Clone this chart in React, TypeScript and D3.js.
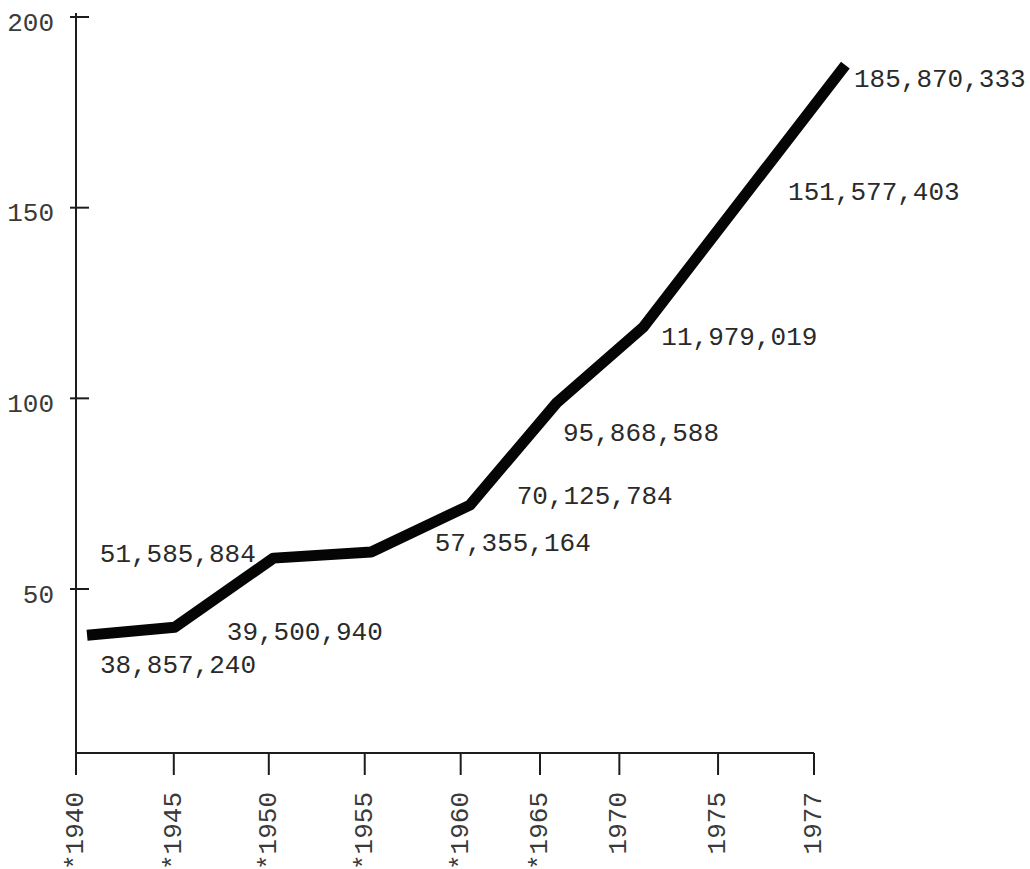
import React from "react";
import * as d3 from "d3";

// ---- data ----
const yearLabels = ["*1940", "*1945", "*1950", "*1955", "*1960", "*1965", "1970", "1975", "1977"];
// position of each year label along the (hand-drawn, uneven) axis, in slot units
const yearSlots = [0, 1.06, 2.09, 3.13, 4.17, 5.03, 5.89, 6.96, 8];
const yTicks = [50, 100, 150, 200];

// the drawn curve (millions)
const lineSlots = [0.12, 1.07, 2.14, 3.2, 4.27, 5.21, 6.15, 8.34];
const lineValues = [37.9, 40.0, 58.1, 59.7, 72.0, 98.8, 118.7, 187.4];

// printed figures per year
const populations = [38857240, 39500940, 51585884, 57355164, 70125784, 95868588, 111979019, 151577403, 185870333];
const printedLabels = [
  "38,857,240",
  "39,500,940",
  "51,585,884",
  "57,355,164",
  "70,125,784",
  "95,868,588",
  "11,979,019",
  "151,577,403",
  "185,870,333",
];

// ---- layout ----
const W = 1030;
const H = 869;
const FONT = "'Liberation Mono', 'DejaVu Sans Mono', monospace";
const FS = 26;
const LABEL_NUDGE: [number, number][] = [
  [24, 41.5],
  [53, 11],
  [-169, -21],
  [70, -10],
  [56, -8],
  [23, 27],
  [42, -8],
  [70, -2],
  [40, 16],
];

export default function App() {
  const x = d3.scaleLinear().domain([0, 8]).range([76, 814]);
  const y = d3.scaleLinear().domain([7, 200]).range([753, 17]);
  const yTop = y(200) - 4;
  const y0 = y(7);

  const pts: [number, number][] = lineSlots.map((s, i) => [s, lineValues[i]]);
  const path = d3
    .line<[number, number]>()
    .x((d) => x(d[0]))
    .y((d) => y(d[1]))
    .curve(d3.curveLinear)(pts) as string;

  const ink = "#1c1c1c";

  return (
    <svg
      width={W}
      height={H}
      viewBox={`0 0 ${W} ${H}`}
      style={{ position: "absolute", left: 0, top: 0, background: "#ffffff" }}
    >
      {/* y axis */}
      <line x1={x(0)} x2={x(0)} y1={yTop} y2={y0} stroke={ink} strokeWidth={2} />
      {yTicks.map((t) => (
        <g key={t}>
          <line x1={x(0) - 6} x2={x(0) + 13} y1={y(t)} y2={y(t)} stroke={ink} strokeWidth={2} />
          <text
            x={x(0) - 22}
            y={y(t) + 13.5}
            textAnchor="end"
            fontFamily={FONT}
            fontSize={FS}
            fill="#3a3a3a"
          >
            {t}
          </text>
        </g>
      ))}

      {/* x axis */}
      <line x1={x(0)} x2={x(8)} y1={y0} y2={y0} stroke={ink} strokeWidth={2.2} />
      {yearLabels.map((lab, i) => {
        const xp = x(yearSlots[i]);
        return (
          <g key={lab}>
            <line x1={xp} x2={xp} y1={y0} y2={y0 + 22} stroke={ink} strokeWidth={2} />
            <text
              transform={`translate(${xp},${y0 + 39}) rotate(-90)`}
              textAnchor="end"
              dominantBaseline="central"
              fontFamily={FONT}
              fontSize={FS}
              fill="#3a3a3a"
            >
              {lab}
            </text>
          </g>
        );
      })}

      {/* curve */}
      <path d={path} fill="none" stroke="#050505" strokeWidth={11} strokeLinejoin="round" strokeLinecap="butt" />

      {/* printed figures */}
      {printedLabels.map((lab, i) => (
        <text
          key={lab}
          x={x(yearSlots[i]) + LABEL_NUDGE[i][0]}
          y={y(populations[i] / 1e6) + LABEL_NUDGE[i][1]}
          fontFamily={FONT}
          fontSize={FS}
          fill="#2a2a2a"
        >
          {lab}
        </text>
      ))}
    </svg>
  );
}
